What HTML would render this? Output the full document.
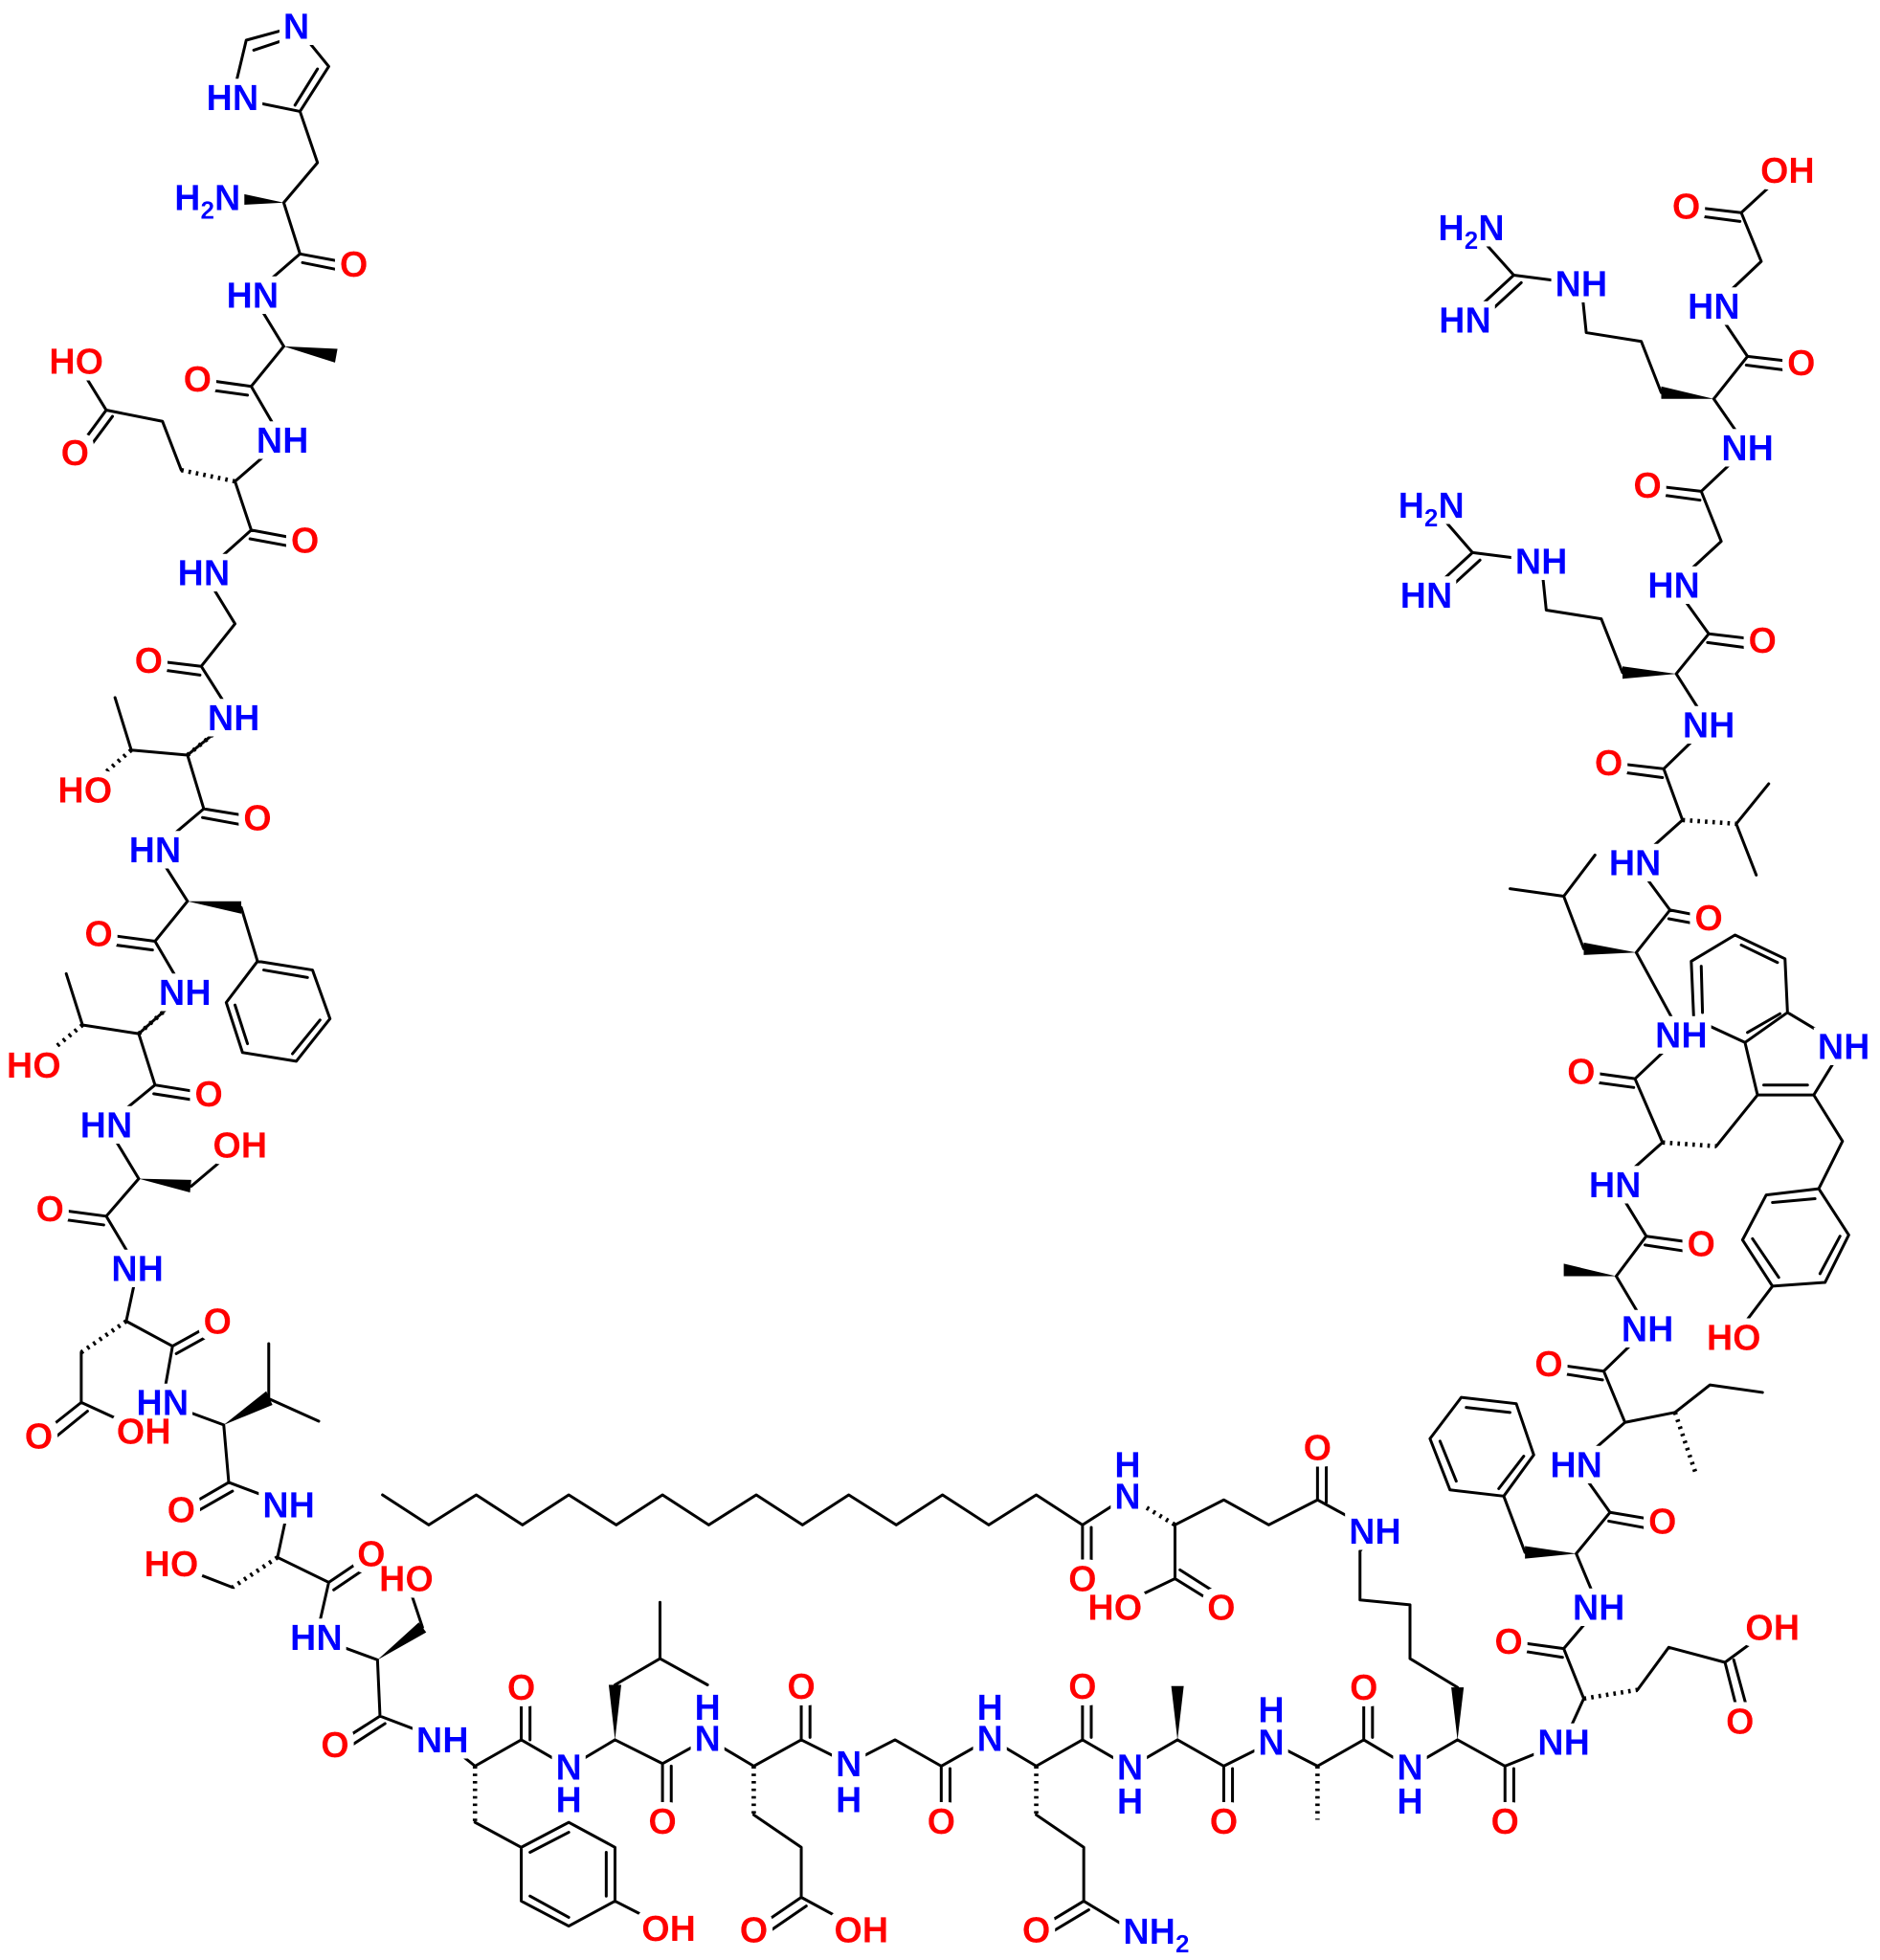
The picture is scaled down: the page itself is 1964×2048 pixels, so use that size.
<!DOCTYPE html>
<html><head><meta charset="utf-8"><style>
html,body{margin:0;padding:0;background:#fff;}
svg{display:block;}
text{font-family:"Liberation Sans",Arial,sans-serif;font-weight:bold;font-size:29px;text-anchor:middle;}
.o{fill:#f00;}.n{fill:#00f;}
</style></head><body>
<svg width="1964" height="2048" viewBox="0 0 1504 1568" xmlns="http://www.w3.org/2000/svg">
<defs>
<filter id="halo" x="-20%" y="-40%" width="140%" height="180%">
<feMorphology in="SourceAlpha" operator="dilate" radius="5" result="d"/>
<feFlood flood-color="#fff" result="w"/>
<feComposite in="w" in2="d" operator="in" result="bg"/>
<feMerge><feMergeNode in="bg"/><feMergeNode in="SourceGraphic"/></feMerge>
</filter>
</defs>
<g fill="none" stroke="#000" stroke-width="2.3" stroke-linejoin="round" stroke-linecap="round">
<path d="
M186 78 L197 32 L237 21 L263 53 L240 89 Z M203 40 L230 31 M254 55 L236 84
M240 89 L254 130 L227 162 M227 162 L240 203 M240 203 L283 211 M242 210 L277 217 M240 203 L202 236
M202 236 L227 277 M227 277 L201 309 L158 303 M198 316 L162 311 M201 309 L226 352 M226 352 L188 385
M145 376 L130 337 L85 328 L61 289 M85 328 L60 362 M90 333 L67 364
M188 385 L201 424 L244 432 M200 431 L238 438 M201 424 L163 458
M163 458 L188 499 L161 533 L119 528 M160 540 L124 535 M161 533 L187 574
M187 574 L150 604 M150 604 L105 600 L92 558 M150 604 L163 647 L206 654 M162 654 L200 661 M163 647 L124 680
M124 680 L150 721 M193 726 L206 769 M206 769 L250 776 L264 815 L237 849 L194 842 L181 802 Z M211 776 L246 782 M256 816 L234 843 M198 835 L188 804
M150 721 L124 753 L79 747 M122 760 L85 755 M124 753 L148 794
M148 794 L111 827 M111 827 L66 820 L53 779 M111 827 L124 868 L167 875 M123 875 L161 881 M124 868 L85 900
M85 900 L111 943 M153 949 L192 916 M111 943 L85 973 L40 967 M83 980 L46 975 M85 973 L110 1015
M110 1015 L101 1057 M65 1082 L65 1122 L31 1149 M70 1129 L38 1155 M65 1122 L115 1145
M101 1057 L138 1077 L174 1057 M141 1083 L177 1063 M138 1077 L130 1122
M130 1122 L179 1140 M215 1119 L215 1075 M215 1119 L255 1137
M179 1140 L183 1186 L145 1208 M186 1193 L151 1213 M183 1186 L231 1204
M231 1204 L222 1246 M186 1270 L137 1251 M222 1246 L263 1266 L297 1243 M267 1272 L298 1251 M263 1266 L253 1310
M253 1310 L302 1328 M338 1302 L325 1263 M302 1328 L304 1373 L268 1396 M308 1379 L274 1401 M304 1373 L354 1392
M354 1392 L380 1413 M380 1458 L417 1478 M417 1478 L455 1458 L492 1478 L492 1521 L455 1541 L417 1521 Z M424 1482 L455 1466 M485 1482 L485 1517 M424 1517 L455 1534 M492 1521 L535 1543
M380 1413 L417 1392 L417 1350 M424 1392 L424 1356 M417 1392 L455 1414
M455 1414 L492 1392 M492 1348 L528 1327 L528 1282 M528 1327 L566 1348
M492 1392 L530 1411 L530 1457 M537 1413 L537 1448 M530 1411 L566 1391
M566 1391 L603 1413 M603 1452 L641 1478 L641 1518 L603 1544 M645 1525 L610 1549 M641 1518 L689 1544
M603 1413 L641 1392 L641 1349 M648 1390 L648 1356 M641 1392 L679 1411
M679 1411 L716 1392 L753 1413 L753 1457 M760 1415 L760 1450 M753 1413 L792 1391
M792 1391 L829 1413 M829 1452 L867 1478 L867 1521 L829 1544 M871 1528 L836 1549 M867 1521 L905 1544
M829 1413 L866 1392 L866 1349 M873 1390 L873 1356 M866 1392 L904 1414
M904 1414 L942 1392 M942 1392 L979 1413 L979 1457 M986 1415 L986 1450 M979 1413 L1017 1394
M1017 1394 L1054 1413 M1054 1413 L1091 1392 L1091 1350 M1098 1390 L1098 1356 M1091 1392 L1128 1414
M1128 1414 L1166 1392 M1166 1350 L1128 1327 L1128 1284 L1088 1280 L1088 1241 L1100 1225
M1166 1392 L1204 1413 L1204 1457 M1211 1415 L1211 1450 M1204 1413 L1251 1394
M1251 1394 L1267 1359 M1310 1352 L1335 1318 L1380 1330 L1392 1377 M1387 1328 L1399 1372 M1380 1330 L1418 1302
M1267 1359 L1251 1319 L1207 1313 M1250 1326 L1212 1320 M1251 1319 L1279 1286
M1279 1286 L1261 1243 M1220 1242 L1203 1197 M1203 1197 L1160 1192 L1144 1151 L1169 1118 L1213 1123 L1227 1164 Z M1165 1185 L1152 1153 M1173 1126 L1208 1130 M1219 1165 L1199 1191
M1261 1243 L1288 1210 L1330 1217 M1287 1217 L1325 1224 M1288 1210 L1261 1172
M1261 1172 L1300 1138 L1340 1130 L1368 1108 L1410 1114
M1300 1138 L1283 1097 L1239 1091 M1282 1104 L1244 1098 M1283 1097 L1318 1063
M1318 1063 L1293 1021 M1293 1021 L1317 989 L1361 995 M1316 996 L1355 1002 M1317 989 L1292 948
M1292 948 L1330 914 M1373 917 L1406 876
M1406 876 L1451 876 L1475 837 L1430 810 L1396 834 L1406 876 M1411 868 L1446 868
M1396 834 L1355 815 L1353 769 L1388 748 L1428 767 L1430 810 M1362 810 L1361 773 M1393 756 L1422 770 M1424 811 L1398 826
M1451 876 L1474 913 L1455 951 M1455 951 L1479 988 L1460 1026 L1418 1029 L1394 992 L1413 956 Z M1452 959 L1418 962 M1472 989 L1456 1019 M1423 1022 L1402 991 M1418 1029 L1387 1070
M1330 914 L1308 863 L1265 857 M1307 870 L1270 865 M1308 863 L1345 828
M1345 828 L1309 762 M1267 759 L1251 717 L1208 711 M1251 717 L1276 684
M1309 762 L1336 728 L1367 734 M1335 735 L1362 740 M1336 728 L1308 690
M1308 690 L1346 656 M1389 659 L1415 627 M1389 659 L1405 700
M1346 656 L1331 615 L1287 610 M1330 622 L1292 617 M1331 615 L1367 580
M1367 580 L1341 539 M1298 538 L1281 495 L1237 488 L1233 449 M1233 449 L1178 442 L1145 404 M1178 442 L1141 476 M1184 448 L1148 481
M1341 539 L1367 507 L1410 512 M1366 514 L1404 519 M1367 507 L1339 468
M1339 468 L1377 433 L1361 393 L1318 388 M1360 400 L1323 395 M1361 393 L1398 358
M1398 358 L1371 319 M1329 314 L1313 273 L1269 266 L1265 227 M1265 227 L1211 220 L1177 182 M1211 220 L1172 256 M1217 226 L1179 261
M1371 319 L1398 285 L1441 290 M1397 292 L1436 297 M1398 285 L1371 245
M1371 245 L1409 209 L1393 170 L1349 165 M1392 177 L1354 172 M1393 170 L1430 136
M306 1196 L343 1220 L381 1196 L418 1220 L455 1196 L493 1220 L530 1196 L567 1220 L605 1196 L642 1220 L679 1196 L717 1220 L754 1196 L791 1220 L829 1196 L866 1220
M866 1220 L866 1263 M873 1222 L873 1258 M866 1220 L902 1197
M940 1220 L979 1200 L1015 1220 L1054 1200 L1054 1158 M1061 1202 L1061 1166 M1054 1200 L1100 1225
M940 1220 L940 1263 L977 1286 M944 1256 L980 1279 M940 1263 L892 1286
"/>
</g>
<g fill="none" stroke="#000" stroke-width="3.5" stroke-dasharray="2 4">
<path d="M188 385 L145 376 M105 600 L68 632 M66 820 L27 852 M101 1057 L65 1082 M222 1246 L186 1270 M380 1413 L380 1458 M603 1413 L603 1452 M829 1413 L829 1452 M1054 1413 L1054 1456 M1267 1359 L1310 1352 M1340 1130 L1357 1180 M1330 914 L1373 917 M1346 656 L1389 659 M902 1197 L940 1220 M150 604 L187 574 M111 827 L148 794"/>
</g>
<g fill="#000">
<polygon points="227,162 190,154 190,164"/>
<polygon points="227,277 270,279 268,290"/>
<polygon points="150,721 193,721 193,731"/>
<polygon points="111,943 153,944 152,954"/>
<polygon points="179,1140 213,1113 218,1124"/>
<polygon points="302,1328 335,1298 341,1306"/>
<polygon points="492,1392 487,1348 497,1348"/>
<polygon points="942,1392 937,1349 947,1349"/>
<polygon points="1166,1392 1161,1350 1171,1350"/>
<polygon points="1261,1243 1220,1237 1220,1247"/>
<polygon points="1293,1021 1251,1011 1251,1021"/>
<polygon points="1309,762 1267,754 1267,764"/>
<polygon points="1341,539 1298,533 1298,543"/>
<polygon points="1371,319 1329,309 1329,319"/>
</g>
<g filter="url(#halo)">
<text class="n" x="237" y="31">N</text>
<text class="n" x="186" y="88">HN</text>
<text class="n" x="166" y="168">H<tspan font-size="20" dy="7">2</tspan><tspan dy="-7">N</tspan></text>
<text class="o" x="283" y="221">O</text>
<text class="n" x="202" y="246">HN</text>
<text class="o" x="158" y="313">O</text>
<text class="n" x="226" y="362">NH</text>
<text class="o" x="61" y="299">HO</text>
<text class="o" x="60" y="372">O</text>
<text class="o" x="244" y="442">O</text>
<text class="n" x="163" y="468">HN</text>
<text class="o" x="119" y="538">O</text>
<text class="n" x="187" y="584">NH</text>
<text class="o" x="68" y="642">HO</text>
<text class="o" x="206" y="664">O</text>
<text class="n" x="124" y="690">HN</text>
<text class="o" x="79" y="757">O</text>
<text class="n" x="148" y="804">NH</text>
<text class="o" x="27" y="862">HO</text>
<text class="o" x="167" y="885">O</text>
<text class="n" x="85" y="910">HN</text>
<text class="o" x="192" y="926">OH</text>
<text class="o" x="40" y="977">O</text>
<text class="n" x="110" y="1025">NH</text>
<text class="o" x="31" y="1159">O</text>
<text class="o" x="115" y="1155">OH</text>
<text class="o" x="174" y="1067">O</text>
<text class="n" x="130" y="1132">HN</text>
<text class="o" x="145" y="1218">O</text>
<text class="n" x="231" y="1214">NH</text>
<text class="o" x="137" y="1261">HO</text>
<text class="o" x="297" y="1253">O</text>
<text class="n" x="253" y="1320">HN</text>
<text class="o" x="325" y="1273">HO</text>
<text class="o" x="268" y="1406">O</text>
<text class="n" x="354" y="1402">NH</text>
<text class="o" x="535" y="1553">OH</text>
<text class="o" x="417" y="1360">O</text>
<text class="n" x="455" y="1424">N</text><text class="n" x="455" y="1450">H</text>
<text class="o" x="530" y="1467">O</text>
<text class="n" x="566" y="1401">N</text><text class="n" x="566" y="1376">H</text>
<text class="o" x="603" y="1554">O</text>
<text class="o" x="689" y="1554">OH</text>
<text class="o" x="641" y="1359">O</text>
<text class="n" x="679" y="1421">N</text><text class="n" x="679" y="1450">H</text>
<text class="o" x="753" y="1467">O</text>
<text class="n" x="792" y="1401">N</text><text class="n" x="792" y="1376">H</text>
<text class="o" x="829" y="1554">O</text>
<text class="n" x="925" y="1555">NH<tspan font-size="20" dy="7">2</tspan></text>
<text class="o" x="866" y="1359">O</text>
<text class="n" x="904" y="1424">N</text><text class="n" x="904" y="1451">H</text>
<text class="o" x="979" y="1467">O</text>
<text class="n" x="1017" y="1404">N</text><text class="n" x="1017" y="1378">H</text>
<text class="o" x="1091" y="1360">O</text>
<text class="n" x="1128" y="1424">N</text><text class="n" x="1128" y="1451">H</text>
<text class="o" x="1204" y="1467">O</text>
<text class="n" x="1251" y="1404">NH</text>
<text class="n" x="1100" y="1235">NH</text>
<text class="o" x="1054" y="1168">O</text>
<text class="n" x="902" y="1207">N</text><text class="n" x="902" y="1182">H</text>
<text class="o" x="866" y="1273">O</text>
<text class="o" x="892" y="1296">HO</text>
<text class="o" x="977" y="1296">O</text>
<text class="o" x="1207" y="1323">O</text>
<text class="n" x="1279" y="1296">NH</text>
<text class="o" x="1418" y="1312">OH</text>
<text class="o" x="1392" y="1387">O</text>
<text class="n" x="1261" y="1182">HN</text>
<text class="o" x="1330" y="1227">O</text>
<text class="o" x="1239" y="1101">O</text>
<text class="n" x="1318" y="1073">NH</text>
<text class="o" x="1361" y="1005">O</text>
<text class="n" x="1292" y="958">HN</text>
<text class="o" x="1387" y="1080">HO</text>
<text class="n" x="1475" y="847">NH</text>
<text class="o" x="1265" y="867">O</text>
<text class="n" x="1345" y="838">NH</text>
<text class="o" x="1367" y="744">O</text>
<text class="n" x="1308" y="700">HN</text>
<text class="o" x="1287" y="620">O</text>
<text class="n" x="1367" y="590">NH</text>
<text class="n" x="1233" y="459">NH</text>
<text class="n" x="1145" y="414">H<tspan font-size="20" dy="7">2</tspan><tspan dy="-7">N</tspan></text>
<text class="n" x="1141" y="486">HN</text>
<text class="o" x="1410" y="522">O</text>
<text class="n" x="1339" y="478">HN</text>
<text class="o" x="1318" y="398">O</text>
<text class="n" x="1398" y="368">NH</text>
<text class="n" x="1265" y="237">NH</text>
<text class="n" x="1177" y="192">H<tspan font-size="20" dy="7">2</tspan><tspan dy="-7">N</tspan></text>
<text class="n" x="1172" y="266">HN</text>
<text class="o" x="1441" y="300">O</text>
<text class="n" x="1371" y="255">HN</text>
<text class="o" x="1349" y="175">O</text>
<text class="o" x="1430" y="146">OH</text>
</g>
</svg>
</body></html>
